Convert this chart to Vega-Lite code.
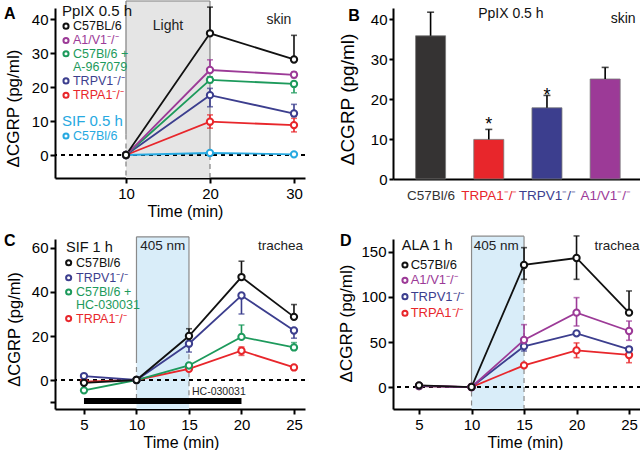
{
"$schema": "https://vega.github.io/schema/vega-lite/v6.json",
"background": "white",
"padding": {"left": 3, "top": 0, "right": 0, "bottom": 0},
"columns": 2,
"bounds": "flush",
"spacing": {"row": 60, "column": 88},
"resolve": {"scale": {"x": "independent", "y": "independent", "color": "independent", "stroke": "independent"}},
"config": {
  "font": "Liberation Sans",
  "view": {"stroke": null},
  "axis": {"domainColor": "#000", "domainWidth": 2, "tickColor": "#000", "tickWidth": 2, "tickSize": 5, "labelColor": "#000", "labelFontSize": 15, "labelPadding": 2, "titleFontSize": 16, "titleFontWeight": "normal", "titleColor": "#000", "grid": false, "labelFont": "Liberation Sans", "titleFont": "Liberation Sans"},
  "text": {"font": "Liberation Sans"}
},
"concat": [
{
  "width": 250, "height": 170,
  "data": {"values": [
    {"s":"SIF C57Bl/6","t":10,"y":0,"lo":0,"hi":0},
    {"s":"SIF C57Bl/6","t":20,"y":0.6,"lo":0.6,"hi":0.6},
    {"s":"SIF C57Bl/6","t":30,"y":0.2,"lo":0.2,"hi":0.2},
    {"s":"TRPA1","t":10,"y":0,"lo":0,"hi":0},
    {"s":"TRPA1","t":20,"y":9.8,"lo":7.9,"hi":11.8},
    {"s":"TRPA1","t":30,"y":8.8,"lo":6.8,"hi":10.8},
    {"s":"TRPV1","t":10,"y":0,"lo":0,"hi":0},
    {"s":"TRPV1","t":20,"y":17.6,"lo":14.2,"hi":19.6},
    {"s":"TRPV1","t":30,"y":12.2,"lo":11.4,"hi":14.9},
    {"s":"C57Bl/6 + A-967079","t":10,"y":0,"lo":0,"hi":0},
    {"s":"C57Bl/6 + A-967079","t":20,"y":22.1,"lo":21.3,"hi":23.0},
    {"s":"C57Bl/6 + A-967079","t":30,"y":20.9,"lo":18.3,"hi":21.6},
    {"s":"A1/V1","t":10,"y":0,"lo":0,"hi":0},
    {"s":"A1/V1","t":20,"y":25.0,"lo":25.0,"hi":28.0},
    {"s":"A1/V1","t":30,"y":23.6,"lo":22.8,"hi":24.4},
    {"s":"C57BL/6","t":10,"y":0,"lo":0,"hi":0},
    {"s":"C57BL/6","t":20,"y":35.8,"lo":35.8,"hi":43.5},
    {"s":"C57BL/6","t":30,"y":28.1,"lo":28.1,"hi":35.2}
  ]},
  "layer": [
    {"data": {"values": [{"x":10,"x2":20,"y":-6.76,"y2":45.3}]},
     "mark": {"type": "rect", "fill": "#e5e5e5"},
     "encoding": {
       "x": {"field": "x", "type": "quantitative", "scale": {"domain": [1.55, 31.31], "nice": false, "zero": false}, "axis": {"values": [10,20,30], "title": "Time (min)", "titleFontWeight": "normal", "titleFontSize": 16, "titleX": 130, "titlePadding": 2, "labelPadding": 3}},
       "x2": {"field": "x2"},
       "y": {"field": "y", "type": "quantitative", "scale": {"domain": [-6.76, 43.24], "nice": false, "zero": false}, "axis": {"values": [0,10,20,30,40], "title": "ΔCGRP (pg/ml)", "titleFontWeight": "normal", "titleFontSize": 17, "titleY": 100, "titlePadding": 9}},
       "y2": {"field": "y2"}}},
    {"data": {"values": [{"x":10,"y":45.3,"y2":6},{"x":20,"y":45.3,"y2":0}]},
     "mark": {"type": "rule", "color": "#808080", "strokeWidth": 1.2},
     "encoding": {"x": {"field": "x", "type": "quantitative"}, "y": {"field": "y", "type": "quantitative"}, "y2": {"field": "y2"}}},
    {"data": {"values": [{"x":10,"y":6,"y2":-6.76},{"x":20,"y":0,"y2":-6.76}]},
     "mark": {"type": "rule", "color": "#808080", "strokeWidth": 1.2, "strokeDash": [5,4]},
     "encoding": {"x": {"field": "x", "type": "quantitative"}, "y": {"field": "y", "type": "quantitative"}, "y2": {"field": "y2"}}},
    {"data": {"values": [{"x":10,"x2":20,"y":45.3}]},
     "mark": {"type": "rule", "color": "#808080", "strokeWidth": 1.2},
     "encoding": {"x": {"field": "x", "type": "quantitative"}, "x2": {"field": "x2"}, "y": {"field": "y", "type": "quantitative"}}},
    {"mark": {"type": "rule", "color": "#000", "strokeWidth": 1.5, "strokeDash": [4,4]},
     "encoding": {"y": {"datum": 0, "type": "quantitative"}}},
    {"mark": {"type": "rule", "strokeWidth": 1.6},
     "encoding": {"x": {"field": "t", "type": "quantitative"}, "y": {"field": "lo", "type": "quantitative"}, "y2": {"field": "hi"},
       "color": {"field": "s", "type": "nominal", "legend": null, "scale": {"domain": ["C57BL/6","A1/V1","C57Bl/6 + A-967079","TRPV1","TRPA1","SIF C57Bl/6","C57Bl/6 + HC-030031"], "range": ["#111111","#9c3a97","#1d9a5c","#3c3e8e","#e8262b","#27a9e1","#1d9a5c"]}}}},
    {"transform": [{"filter": "datum.hi > datum.y"}],
     "mark": {"type": "tick", "orient": "horizontal", "size": 6, "thickness": 1.6},
     "encoding": {"x": {"field": "t", "type": "quantitative"}, "y": {"field": "hi", "type": "quantitative"},
       "color": {"field": "s", "type": "nominal", "legend": null, "scale": {"domain": ["C57BL/6","A1/V1","C57Bl/6 + A-967079","TRPV1","TRPA1","SIF C57Bl/6","C57Bl/6 + HC-030031"], "range": ["#111111","#9c3a97","#1d9a5c","#3c3e8e","#e8262b","#27a9e1","#1d9a5c"]}}}},
    {"transform": [{"filter": "datum.lo < datum.y"}],
     "mark": {"type": "tick", "orient": "horizontal", "size": 6, "thickness": 1.6},
     "encoding": {"x": {"field": "t", "type": "quantitative"}, "y": {"field": "lo", "type": "quantitative"},
       "color": {"field": "s", "type": "nominal", "legend": null, "scale": {"domain": ["C57BL/6","A1/V1","C57Bl/6 + A-967079","TRPV1","TRPA1","SIF C57Bl/6","C57Bl/6 + HC-030031"], "range": ["#111111","#9c3a97","#1d9a5c","#3c3e8e","#e8262b","#27a9e1","#1d9a5c"]}}}},
    {"mark": {"type": "line", "strokeWidth": 1.8},
     "encoding": {"x": {"field": "t", "type": "quantitative"}, "y": {"field": "y", "type": "quantitative"},
       "color": {"field": "s", "type": "nominal", "legend": null, "scale": {"domain": ["C57BL/6","A1/V1","C57Bl/6 + A-967079","TRPV1","TRPA1","SIF C57Bl/6","C57Bl/6 + HC-030031"], "range": ["#111111","#9c3a97","#1d9a5c","#3c3e8e","#e8262b","#27a9e1","#1d9a5c"]}}}},
    {"mark": {"type": "point", "filled": true, "fill": "white", "strokeWidth": 2, "size": 40, "opacity": 1},
     "encoding": {"x": {"field": "t", "type": "quantitative"}, "y": {"field": "y", "type": "quantitative"},
       "stroke": {"field": "s", "type": "nominal", "legend": null, "scale": {"domain": ["C57BL/6","A1/V1","C57Bl/6 + A-967079","TRPV1","TRPA1","SIF C57Bl/6","C57Bl/6 + HC-030031"], "range": ["#111111","#9c3a97","#1d9a5c","#3c3e8e","#e8262b","#27a9e1","#1d9a5c"]}}}},
    {"data": {"values": [
       {"s":"C57BL/6","x":2.86,"y":37.9},{"s":"A1/V1","x":2.86,"y":33.7},{"s":"C57Bl/6 + A-967079","x":2.86,"y":29.8},
       {"s":"TRPV1","x":2.86,"y":21.8},{"s":"TRPA1","x":2.86,"y":17.6},{"s":"SIF C57Bl/6","x":2.86,"y":5.6}]},
     "mark": {"type": "point", "filled": true, "fill": "white", "strokeWidth": 2, "size": 26, "opacity": 1},
     "encoding": {"x": {"field": "x", "type": "quantitative"}, "y": {"field": "y", "type": "quantitative"},
       "stroke": {"field": "s", "type": "nominal", "legend": null, "scale": {"domain": ["C57BL/6","A1/V1","C57Bl/6 + A-967079","TRPV1","TRPA1","SIF C57Bl/6","C57Bl/6 + HC-030031"], "range": ["#111111","#9c3a97","#1d9a5c","#3c3e8e","#e8262b","#27a9e1","#1d9a5c"]}}}},
    {"data": {"values": [
       {"s":"C57BL/6","label":"C57BL/6","x":3.69,"y":37.9},
       {"s":"A1/V1","label":"A1/V1⁻/⁻","x":3.69,"y":33.7},
       {"s":"C57Bl/6 + A-967079","label":"C57Bl/6 +","x":3.69,"y":29.8},
       {"s":"C57Bl/6 + A-967079","label":"A-967079","x":3.69,"y":25.9},
       {"s":"TRPV1","label":"TRPV1⁻/⁻","x":3.69,"y":21.8},
       {"s":"TRPA1","label":"TRPA1⁻/⁻","x":3.69,"y":17.6},
       {"s":"SIF C57Bl/6","label":"C57Bl/6","x":3.69,"y":5.6}]},
     "mark": {"type": "text", "align": "left", "baseline": "middle", "fontSize": 12.5},
     "encoding": {"x": {"field": "x", "type": "quantitative"}, "y": {"field": "y", "type": "quantitative"}, "text": {"field": "label"},
       "color": {"field": "s", "type": "nominal", "legend": null, "scale": {"domain": ["C57BL/6","A1/V1","C57Bl/6 + A-967079","TRPV1","TRPA1","SIF C57Bl/6","C57Bl/6 + HC-030031"], "range": ["#111111","#9c3a97","#1d9a5c","#3c3e8e","#e8262b","#27a9e1","#1d9a5c"]}}}},
    {"data": {"values": [
       {"s":"C57BL/6","label":"PpIX 0.5 h","x":2.38,"y":42.4},
       {"s":"SIF C57Bl/6","label":"SIF 0.5 h","x":2.38,"y":10}]},
     "mark": {"type": "text", "align": "left", "baseline": "middle", "fontSize": 15},
     "encoding": {"x": {"field": "x", "type": "quantitative"}, "y": {"field": "y", "type": "quantitative"}, "text": {"field": "label"},
       "color": {"field": "s", "type": "nominal", "legend": null, "scale": {"domain": ["C57BL/6","A1/V1","C57Bl/6 + A-967079","TRPV1","TRPA1","SIF C57Bl/6","C57Bl/6 + HC-030031"], "range": ["#111111","#9c3a97","#1d9a5c","#3c3e8e","#e8262b","#27a9e1","#1d9a5c"]}}}},
    {"data": {"values": [{"label":"Light","x":15,"y":37.9},{"label":"skin","x":28.2,"y":39.7}]},
     "mark": {"type": "text", "baseline": "middle", "fontSize": 14, "color": "#222"},
     "encoding": {"x": {"field": "x", "type": "quantitative"}, "y": {"field": "y", "type": "quantitative"}, "text": {"field": "label"}}},
    {"data": {"values": [{"label":"A","x":-4.52,"y":41.5}]},
     "mark": {"type": "text", "align": "left", "baseline": "middle", "fontSize": 16, "fontWeight": "bold", "color": "#000"},
     "encoding": {"x": {"field": "x", "type": "quantitative"}, "y": {"field": "y", "type": "quantitative"}, "text": {"field": "label"}}}
  ]
},
{
  "width": 248, "height": 171,
  "data": {"values": [
    {"g":"C57Bl/6","pos":1,"v":35.8,"hi":41.7},
    {"g":"TRPA1","pos":2,"v":9.9,"hi":12.4},
    {"g":"TRPV1","pos":3,"v":17.8,"hi":20.9},
    {"g":"A1/V1","pos":4,"v":25.0,"hi":27.9}
  ]},
  "layer": [
    {"mark": {"type": "bar", "width": 30, "orient": "vertical", "stroke": "#777", "strokeWidth": 0.8},
     "encoding": {
       "x": {"field": "pos", "type": "quantitative", "scale": {"domain": [0.44, 4.53], "nice": false, "zero": false},
         "axis": {"values": [1,2,3,4], "ticks": false, "labelPadding": 9, "labelFontSize": 13.5, "labelOverlap": false, "labelFlush": false, "title": null,
           "labelExpr": "datum.value == 1 ? 'C57Bl/6' : datum.value == 2 ? 'TRPA1⁻/⁻' : datum.value == 3 ? 'TRPV1⁻/⁻' : 'A1/V1⁻/⁻'",
           "labelColor": {"condition": [{"test": "datum.value == 2", "value": "#e8262b"}, {"test": "datum.value == 3", "value": "#3c3e8e"}, {"test": "datum.value == 4", "value": "#9c3a97"}], "value": "#333"}}},
       "y": {"field": "v", "type": "quantitative", "scale": {"domain": [0, 42.75], "nice": false, "zero": false},
         "axis": {"values": [0,10,20,30,40], "title": "ΔCGRP (pg/ml)", "titleFontWeight": "normal", "titleFontSize": 19, "titleY": 91, "titlePadding": 13, "tickSize": 4}},
       "color": {"field": "g", "type": "nominal", "legend": null, "scale": {"domain": ["C57Bl/6","TRPA1","TRPV1","A1/V1"], "range": ["#353333","#e8262b","#3c3e8e","#9c3a97"]}}}},
    {"mark": {"type": "rule", "color": "#000", "strokeWidth": 1.6},
     "encoding": {"x": {"field": "pos", "type": "quantitative"}, "y": {"field": "v", "type": "quantitative"}, "y2": {"field": "hi"}}},
    {"mark": {"type": "tick", "orient": "horizontal", "size": 7, "thickness": 1.6, "color": "#000"},
     "encoding": {"x": {"field": "pos", "type": "quantitative"}, "y": {"field": "hi", "type": "quantitative"}}},
    {"data": {"values": [{"label":"*","x":2,"y":12.2},{"label":"*","x":3,"y":19.5}]},
     "mark": {"type": "text", "baseline": "alphabetic", "fontSize": 18, "color": "#000"},
     "encoding": {"x": {"field": "x", "type": "quantitative"}, "y": {"field": "y", "type": "quantitative"}, "text": {"field": "label"}}},
    {"data": {"values": [{"label":"PpIX 0.5 h","x":2.38,"y":41.25},{"label":"skin","x":4.31,"y":40}]},
     "mark": {"type": "text", "baseline": "middle", "fontSize": 14, "color": "#111"},
     "encoding": {"x": {"field": "x", "type": "quantitative"}, "y": {"field": "y", "type": "quantitative"}, "text": {"field": "label"}}},
    {"data": {"values": [{"label":"B","x":-0.417,"y":40.75}]},
     "mark": {"type": "text", "align": "left", "baseline": "middle", "fontSize": 16, "fontWeight": "bold", "color": "#000"},
     "encoding": {"x": {"field": "x", "type": "quantitative"}, "y": {"field": "y", "type": "quantitative"}, "text": {"field": "label"}}}
  ]
},
{
  "width": 250, "height": 170,
  "data": {"values": [
    {"s":"TRPA1","t":5,"y":-0.7,"lo":-0.7,"hi":-0.7},
    {"s":"TRPA1","t":10,"y":0,"lo":0,"hi":0},
    {"s":"TRPA1","t":15,"y":5.1,"lo":5.1,"hi":5.1},
    {"s":"TRPA1","t":20,"y":13.3,"lo":11.2,"hi":15.0},
    {"s":"TRPA1","t":25,"y":5.7,"lo":5.7,"hi":5.7},
    {"s":"C57Bl/6 + HC-030031","t":5,"y":-4.7,"lo":-4.7,"hi":-4.7},
    {"s":"C57Bl/6 + HC-030031","t":10,"y":0,"lo":0,"hi":0},
    {"s":"C57Bl/6 + HC-030031","t":15,"y":6.6,"lo":6.6,"hi":6.6},
    {"s":"C57Bl/6 + HC-030031","t":20,"y":19.6,"lo":19.6,"hi":25.0},
    {"s":"C57Bl/6 + HC-030031","t":25,"y":14.8,"lo":14.8,"hi":17.0},
    {"s":"TRPV1","t":5,"y":1.8,"lo":1.8,"hi":1.8},
    {"s":"TRPV1","t":10,"y":0,"lo":0,"hi":0},
    {"s":"TRPV1","t":15,"y":16.5,"lo":12.7,"hi":16.5},
    {"s":"TRPV1","t":20,"y":38.4,"lo":30.0,"hi":38.4},
    {"s":"TRPV1","t":25,"y":22.5,"lo":19.0,"hi":22.5},
    {"s":"C57BL/6","t":5,"y":-1.3,"lo":-1.3,"hi":-1.3},
    {"s":"C57BL/6","t":10,"y":0,"lo":0,"hi":0},
    {"s":"C57BL/6","t":15,"y":20.0,"lo":20.0,"hi":23.3},
    {"s":"C57BL/6","t":20,"y":46.8,"lo":46.8,"hi":54.0},
    {"s":"C57BL/6","t":25,"y":28.7,"lo":28.7,"hi":34.3}
  ]},
  "layer": [
    {"data": {"values": [{"x":10,"x2":15,"y":-13.18,"y2":65.1}]},
     "mark": {"type": "rect", "fill": "#d9edf9"},
     "encoding": {
       "x": {"field": "x", "type": "quantitative", "scale": {"domain": [2.24, 26.05], "nice": false, "zero": false}, "axis": {"values": [5,10,15,20,25], "title": "Time (min)", "titleFontWeight": "normal", "titleFontSize": 16, "titleX": 126, "titlePadding": 2, "labelPadding": 3}},
       "x2": {"field": "x2"},
       "y": {"field": "y", "type": "quantitative", "scale": {"domain": [-13.18, 64.09], "nice": false, "zero": false}, "axis": {"values": [-10,0,20,40,60], "labelExpr": "datum.value < 0 ? '' : datum.label", "title": "ΔCGRP (pg/ml)", "titleFontWeight": "normal", "titleFontSize": 16.5, "titleY": 90, "titlePadding": 9}},
       "y2": {"field": "y2"}}},
    {"data": {"values": [{"x":10,"y":65.1,"y2":10},{"x":15,"y":65.1,"y2":24}]},
     "mark": {"type": "rule", "color": "#8a8a8a", "strokeWidth": 1.2},
     "encoding": {"x": {"field": "x", "type": "quantitative"}, "y": {"field": "y", "type": "quantitative"}, "y2": {"field": "y2"}}},
    {"data": {"values": [{"x":10,"y":10,"y2":-9.5},{"x":15,"y":24,"y2":-9.5}]},
     "mark": {"type": "rule", "color": "#8a8a8a", "strokeWidth": 1.2, "strokeDash": [5,4]},
     "encoding": {"x": {"field": "x", "type": "quantitative"}, "y": {"field": "y", "type": "quantitative"}, "y2": {"field": "y2"}}},
    {"data": {"values": [{"x":10,"x2":15,"y":65.1}]},
     "mark": {"type": "rule", "color": "#8a8a8a", "strokeWidth": 1.2},
     "encoding": {"x": {"field": "x", "type": "quantitative"}, "x2": {"field": "x2"}, "y": {"field": "y", "type": "quantitative"}}},
    {"mark": {"type": "rule", "color": "#000", "strokeWidth": 1.5, "strokeDash": [4,4]},
     "encoding": {"y": {"datum": 0, "type": "quantitative"}}},
    {"data": {"values": [{"x":5,"x2":20,"y":-9.5}]},
     "mark": {"type": "rule", "color": "#000", "strokeWidth": 6},
     "encoding": {"x": {"field": "x", "type": "quantitative"}, "x2": {"field": "x2"}, "y": {"field": "y", "type": "quantitative"}}},
    {"data": {"values": [{"label":"HC-030031","x":15.29,"y":-5.3}]},
     "mark": {"type": "text", "align": "left", "baseline": "middle", "fontSize": 10.5, "color": "#222"},
     "encoding": {"x": {"field": "x", "type": "quantitative"}, "y": {"field": "y", "type": "quantitative"}, "text": {"field": "label"}}},
    {"mark": {"type": "rule", "strokeWidth": 1.6},
     "encoding": {"x": {"field": "t", "type": "quantitative"}, "y": {"field": "lo", "type": "quantitative"}, "y2": {"field": "hi"},
       "color": {"field": "s", "type": "nominal", "legend": null, "scale": {"domain": ["C57BL/6","A1/V1","C57Bl/6 + A-967079","TRPV1","TRPA1","SIF C57Bl/6","C57Bl/6 + HC-030031"], "range": ["#111111","#9c3a97","#1d9a5c","#3c3e8e","#e8262b","#27a9e1","#1d9a5c"]}}}},
    {"transform": [{"filter": "datum.hi > datum.y"}],
     "mark": {"type": "tick", "orient": "horizontal", "size": 6, "thickness": 1.6},
     "encoding": {"x": {"field": "t", "type": "quantitative"}, "y": {"field": "hi", "type": "quantitative"},
       "color": {"field": "s", "type": "nominal", "legend": null, "scale": {"domain": ["C57BL/6","A1/V1","C57Bl/6 + A-967079","TRPV1","TRPA1","SIF C57Bl/6","C57Bl/6 + HC-030031"], "range": ["#111111","#9c3a97","#1d9a5c","#3c3e8e","#e8262b","#27a9e1","#1d9a5c"]}}}},
    {"transform": [{"filter": "datum.lo < datum.y"}],
     "mark": {"type": "tick", "orient": "horizontal", "size": 6, "thickness": 1.6},
     "encoding": {"x": {"field": "t", "type": "quantitative"}, "y": {"field": "lo", "type": "quantitative"},
       "color": {"field": "s", "type": "nominal", "legend": null, "scale": {"domain": ["C57BL/6","A1/V1","C57Bl/6 + A-967079","TRPV1","TRPA1","SIF C57Bl/6","C57Bl/6 + HC-030031"], "range": ["#111111","#9c3a97","#1d9a5c","#3c3e8e","#e8262b","#27a9e1","#1d9a5c"]}}}},
    {"mark": {"type": "line", "strokeWidth": 1.8},
     "encoding": {"x": {"field": "t", "type": "quantitative"}, "y": {"field": "y", "type": "quantitative"},
       "color": {"field": "s", "type": "nominal", "legend": null, "scale": {"domain": ["C57BL/6","A1/V1","C57Bl/6 + A-967079","TRPV1","TRPA1","SIF C57Bl/6","C57Bl/6 + HC-030031"], "range": ["#111111","#9c3a97","#1d9a5c","#3c3e8e","#e8262b","#27a9e1","#1d9a5c"]}}}},
    {"mark": {"type": "point", "filled": true, "fill": "white", "strokeWidth": 2, "size": 40, "opacity": 1},
     "encoding": {"x": {"field": "t", "type": "quantitative"}, "y": {"field": "y", "type": "quantitative"},
       "stroke": {"field": "s", "type": "nominal", "legend": null, "scale": {"domain": ["C57BL/6","A1/V1","C57Bl/6 + A-967079","TRPV1","TRPA1","SIF C57Bl/6","C57Bl/6 + HC-030031"], "range": ["#111111","#9c3a97","#1d9a5c","#3c3e8e","#e8262b","#27a9e1","#1d9a5c"]}}}},
    {"data": {"values": [
       {"s":"C57BL/6","x":3.54,"y":53.3},{"s":"TRPV1","x":3.54,"y":46.5},{"s":"C57Bl/6 + HC-030031","x":3.54,"y":40},{"s":"TRPA1","x":3.54,"y":27.9}]},
     "mark": {"type": "point", "filled": true, "fill": "white", "strokeWidth": 2, "size": 26, "opacity": 1},
     "encoding": {"x": {"field": "x", "type": "quantitative"}, "y": {"field": "y", "type": "quantitative"},
       "stroke": {"field": "s", "type": "nominal", "legend": null, "scale": {"domain": ["C57BL/6","A1/V1","C57Bl/6 + A-967079","TRPV1","TRPA1","SIF C57Bl/6","C57Bl/6 + HC-030031"], "range": ["#111111","#9c3a97","#1d9a5c","#3c3e8e","#e8262b","#27a9e1","#1d9a5c"]}}}},
    {"data": {"values": [
       {"s":"C57BL/6","label":"C57Bl/6","x":4.24,"y":53.3},
       {"s":"TRPV1","label":"TRPV1⁻/⁻","x":4.24,"y":46.5},
       {"s":"C57Bl/6 + HC-030031","label":"C57Bl/6 +","x":4.24,"y":40},
       {"s":"C57Bl/6 + HC-030031","label":"HC-030031","x":4.24,"y":33.9},
       {"s":"TRPA1","label":"TRPA1⁻/⁻","x":4.24,"y":27.9}]},
     "mark": {"type": "text", "align": "left", "baseline": "middle", "fontSize": 12.5},
     "encoding": {"x": {"field": "x", "type": "quantitative"}, "y": {"field": "y", "type": "quantitative"}, "text": {"field": "label"},
       "color": {"field": "s", "type": "nominal", "legend": null, "scale": {"domain": ["C57BL/6","A1/V1","C57Bl/6 + A-967079","TRPV1","TRPA1","SIF C57Bl/6","C57Bl/6 + HC-030031"], "range": ["#111111","#9c3a97","#1d9a5c","#3c3e8e","#e8262b","#27a9e1","#1d9a5c"]}}}},
    {"data": {"values": [{"label":"SIF 1 h","x":3.29,"y":60.1}]},
     "mark": {"type": "text", "align": "left", "baseline": "middle", "fontSize": 14.5, "color": "#111"},
     "encoding": {"x": {"field": "x", "type": "quantitative"}, "y": {"field": "y", "type": "quantitative"}, "text": {"field": "label"}}},
    {"data": {"values": [{"label":"405 nm","x":12.5,"y":60.9},{"label":"trachea","x":23.72,"y":60.9}]},
     "mark": {"type": "text", "baseline": "middle", "fontSize": 13.5, "color": "#222"},
     "encoding": {"x": {"field": "x", "type": "quantitative"}, "y": {"field": "y", "type": "quantitative"}, "text": {"field": "label"}}},
    {"data": {"values": [{"label":"C","x":-2.62,"y":63.2}]},
     "mark": {"type": "text", "align": "left", "baseline": "middle", "fontSize": 16, "fontWeight": "bold", "color": "#000"},
     "encoding": {"x": {"field": "x", "type": "quantitative"}, "y": {"field": "y", "type": "quantitative"}, "text": {"field": "label"}}}
  ]
},
{
  "width": 248, "height": 170,
  "data": {"values": [
    {"s":"TRPA1","t":5,"y":1.0,"lo":1.0,"hi":1.0},
    {"s":"TRPA1","t":10,"y":0,"lo":0,"hi":0},
    {"s":"TRPA1","t":15,"y":24.1,"lo":24.1,"hi":24.1},
    {"s":"TRPA1","t":20,"y":40.7,"lo":32.6,"hi":49.0},
    {"s":"TRPA1","t":25,"y":35.6,"lo":27.0,"hi":43.7},
    {"s":"TRPV1","t":5,"y":1.0,"lo":1.0,"hi":1.0},
    {"s":"TRPV1","t":10,"y":0,"lo":0,"hi":0},
    {"s":"TRPV1","t":15,"y":45.2,"lo":40.0,"hi":45.2},
    {"s":"TRPV1","t":20,"y":59.6,"lo":59.6,"hi":59.6},
    {"s":"TRPV1","t":25,"y":41.9,"lo":41.9,"hi":41.9},
    {"s":"A1/V1","t":5,"y":1.5,"lo":1.5,"hi":1.5},
    {"s":"A1/V1","t":10,"y":0,"lo":0,"hi":0},
    {"s":"A1/V1","t":15,"y":52.2,"lo":52.2,"hi":69.3},
    {"s":"A1/V1","t":20,"y":82.6,"lo":67.8,"hi":99.3},
    {"s":"A1/V1","t":25,"y":62.2,"lo":51.9,"hi":73.3},
    {"s":"C57BL/6","t":5,"y":1.9,"lo":1.9,"hi":1.9},
    {"s":"C57BL/6","t":10,"y":0,"lo":0,"hi":0},
    {"s":"C57BL/6","t":15,"y":135.6,"lo":119.6,"hi":154.8},
    {"s":"C57BL/6","t":20,"y":143.3,"lo":119.6,"hi":167.8},
    {"s":"C57BL/6","t":25,"y":82.6,"lo":82.6,"hi":106.7}
  ]},
  "layer": [
    {"data": {"values": [{"x":10,"x2":15,"y":-24.4,"y2":167.5}]},
     "mark": {"type": "rect", "fill": "#d9edf9"},
     "encoding": {
       "x": {"field": "x", "type": "quantitative", "scale": {"domain": [2.52, 26.14], "nice": false, "zero": false}, "axis": {"values": [5,10,15,20,25], "title": "Time (min)", "titleFontWeight": "normal", "titleFontSize": 16, "titleX": 132, "titlePadding": 2, "labelPadding": 3}},
       "x2": {"field": "x2"},
       "y": {"field": "y", "type": "quantitative", "scale": {"domain": [-24.4, 164.4], "nice": false, "zero": false}, "axis": {"values": [0,50,100,150], "title": "ΔCGRP (pg/ml)", "titleFontWeight": "normal", "titleFontSize": 17, "titleY": 84, "titlePadding": 5}},
       "y2": {"field": "y2"}}},
    {"data": {"values": [{"x":10,"y":167.5,"y2":5},{"x":15,"y":167.5,"y2":140}]},
     "mark": {"type": "rule", "color": "#8a8a8a", "strokeWidth": 1.2},
     "encoding": {"x": {"field": "x", "type": "quantitative"}, "y": {"field": "y", "type": "quantitative"}, "y2": {"field": "y2"}}},
    {"data": {"values": [{"x":10,"y":5,"y2":-24.4},{"x":15,"y":140,"y2":-24.4}]},
     "mark": {"type": "rule", "color": "#8a8a8a", "strokeWidth": 1.2, "strokeDash": [5,4]},
     "encoding": {"x": {"field": "x", "type": "quantitative"}, "y": {"field": "y", "type": "quantitative"}, "y2": {"field": "y2"}}},
    {"data": {"values": [{"x":10,"x2":15,"y":167.5}]},
     "mark": {"type": "rule", "color": "#8a8a8a", "strokeWidth": 1.2},
     "encoding": {"x": {"field": "x", "type": "quantitative"}, "x2": {"field": "x2"}, "y": {"field": "y", "type": "quantitative"}}},
    {"mark": {"type": "rule", "color": "#000", "strokeWidth": 1.5, "strokeDash": [4,4]},
     "encoding": {"y": {"datum": 0, "type": "quantitative"}}},
    {"mark": {"type": "rule", "strokeWidth": 1.6},
     "encoding": {"x": {"field": "t", "type": "quantitative"}, "y": {"field": "lo", "type": "quantitative"}, "y2": {"field": "hi"},
       "color": {"field": "s", "type": "nominal", "legend": null, "scale": {"domain": ["C57BL/6","A1/V1","C57Bl/6 + A-967079","TRPV1","TRPA1","SIF C57Bl/6","C57Bl/6 + HC-030031"], "range": ["#111111","#9c3a97","#1d9a5c","#3c3e8e","#e8262b","#27a9e1","#1d9a5c"]}}}},
    {"transform": [{"filter": "datum.hi > datum.y"}],
     "mark": {"type": "tick", "orient": "horizontal", "size": 6, "thickness": 1.6},
     "encoding": {"x": {"field": "t", "type": "quantitative"}, "y": {"field": "hi", "type": "quantitative"},
       "color": {"field": "s", "type": "nominal", "legend": null, "scale": {"domain": ["C57BL/6","A1/V1","C57Bl/6 + A-967079","TRPV1","TRPA1","SIF C57Bl/6","C57Bl/6 + HC-030031"], "range": ["#111111","#9c3a97","#1d9a5c","#3c3e8e","#e8262b","#27a9e1","#1d9a5c"]}}}},
    {"transform": [{"filter": "datum.lo < datum.y"}],
     "mark": {"type": "tick", "orient": "horizontal", "size": 6, "thickness": 1.6},
     "encoding": {"x": {"field": "t", "type": "quantitative"}, "y": {"field": "lo", "type": "quantitative"},
       "color": {"field": "s", "type": "nominal", "legend": null, "scale": {"domain": ["C57BL/6","A1/V1","C57Bl/6 + A-967079","TRPV1","TRPA1","SIF C57Bl/6","C57Bl/6 + HC-030031"], "range": ["#111111","#9c3a97","#1d9a5c","#3c3e8e","#e8262b","#27a9e1","#1d9a5c"]}}}},
    {"mark": {"type": "line", "strokeWidth": 1.8},
     "encoding": {"x": {"field": "t", "type": "quantitative"}, "y": {"field": "y", "type": "quantitative"},
       "color": {"field": "s", "type": "nominal", "legend": null, "scale": {"domain": ["C57BL/6","A1/V1","C57Bl/6 + A-967079","TRPV1","TRPA1","SIF C57Bl/6","C57Bl/6 + HC-030031"], "range": ["#111111","#9c3a97","#1d9a5c","#3c3e8e","#e8262b","#27a9e1","#1d9a5c"]}}}},
    {"mark": {"type": "point", "filled": true, "fill": "white", "strokeWidth": 2, "size": 40, "opacity": 1},
     "encoding": {"x": {"field": "t", "type": "quantitative"}, "y": {"field": "y", "type": "quantitative"},
       "stroke": {"field": "s", "type": "nominal", "legend": null, "scale": {"domain": ["C57BL/6","A1/V1","C57Bl/6 + A-967079","TRPV1","TRPA1","SIF C57Bl/6","C57Bl/6 + HC-030031"], "range": ["#111111","#9c3a97","#1d9a5c","#3c3e8e","#e8262b","#27a9e1","#1d9a5c"]}}}},
    {"data": {"values": [
       {"s":"C57BL/6","x":3.66,"y":135.6},{"s":"A1/V1","x":3.66,"y":118.5},{"s":"TRPV1","x":3.66,"y":100.4},{"s":"TRPA1","x":3.66,"y":81.9}]},
     "mark": {"type": "point", "filled": true, "fill": "white", "strokeWidth": 2, "size": 26, "opacity": 1},
     "encoding": {"x": {"field": "x", "type": "quantitative"}, "y": {"field": "y", "type": "quantitative"},
       "stroke": {"field": "s", "type": "nominal", "legend": null, "scale": {"domain": ["C57BL/6","A1/V1","C57Bl/6 + A-967079","TRPV1","TRPA1","SIF C57Bl/6","C57Bl/6 + HC-030031"], "range": ["#111111","#9c3a97","#1d9a5c","#3c3e8e","#e8262b","#27a9e1","#1d9a5c"]}}}},
    {"data": {"values": [
       {"s":"C57BL/6","label":"C57Bl/6","x":4.2,"y":135.6},
       {"s":"A1/V1","label":"A1/V1⁻/⁻","x":4.2,"y":118.5},
       {"s":"TRPV1","label":"TRPV1⁻/⁻","x":4.2,"y":100.4},
       {"s":"TRPA1","label":"TRPA1⁻/⁻","x":4.2,"y":81.9}]},
     "mark": {"type": "text", "align": "left", "baseline": "middle", "fontSize": 13},
     "encoding": {"x": {"field": "x", "type": "quantitative"}, "y": {"field": "y", "type": "quantitative"}, "text": {"field": "label"},
       "color": {"field": "s", "type": "nominal", "legend": null, "scale": {"domain": ["C57BL/6","A1/V1","C57Bl/6 + A-967079","TRPV1","TRPA1","SIF C57Bl/6","C57Bl/6 + HC-030031"], "range": ["#111111","#9c3a97","#1d9a5c","#3c3e8e","#e8262b","#27a9e1","#1d9a5c"]}}}},
    {"data": {"values": [{"label":"ALA 1 h","x":3.35,"y":156.7}]},
     "mark": {"type": "text", "align": "left", "baseline": "middle", "fontSize": 14.5, "color": "#111"},
     "encoding": {"x": {"field": "x", "type": "quantitative"}, "y": {"field": "y", "type": "quantitative"}, "text": {"field": "label"}}},
    {"data": {"values": [{"label":"405 nm","x":12.36,"y":156.7},{"label":"trachea","x":23.85,"y":156.7}]},
     "mark": {"type": "text", "baseline": "middle", "fontSize": 13.5, "color": "#222"},
     "encoding": {"x": {"field": "x", "type": "quantitative"}, "y": {"field": "y", "type": "quantitative"}, "text": {"field": "label"}}},
    {"data": {"values": [{"label":"D","x":-2.53,"y":162.2}]},
     "mark": {"type": "text", "align": "left", "baseline": "middle", "fontSize": 16, "fontWeight": "bold", "color": "#000"},
     "encoding": {"x": {"field": "x", "type": "quantitative"}, "y": {"field": "y", "type": "quantitative"}, "text": {"field": "label"}}}
  ]
}
]
}
